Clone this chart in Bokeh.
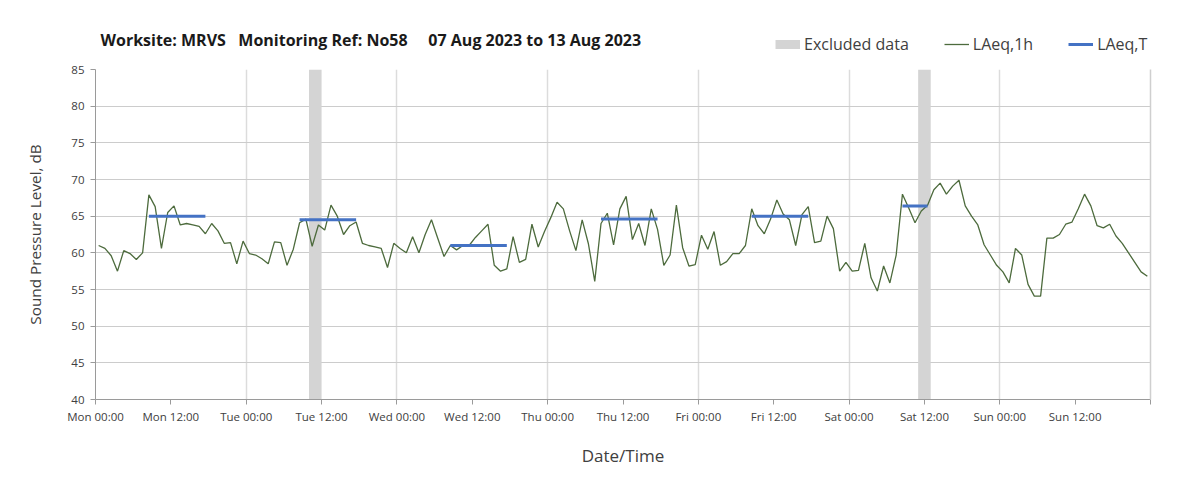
from bokeh.plotting import figure
from bokeh.layouts import column
from bokeh.models import (FixedTicker, Legend, LegendItem, Range1d, ColumnDataSource,
                          Label, LinearAxis)
from bokeh.embed import file_html
from bokeh.resources import INLINE

# ---------------- data ----------------
day_names = ["Mon", "Tue", "Wed", "Thu", "Fri", "Sat", "Sun"]

laeq_1h = [
    61.0, 60.6, 59.6, 57.5, 60.3, 59.9, 59.1, 60.0, 67.9, 66.3, 60.6, 65.5,
    66.4, 63.8, 64.0, 63.8, 63.6, 62.6, 64.0, 63.0, 61.3, 61.4, 58.5, 61.6,
    59.9, 59.7, 59.2, 58.5, 61.5, 61.4, 58.3, 60.5, 64.1, 64.6, 60.9, 63.8,
    63.1, 66.5, 65.0, 62.5, 63.7, 64.2, 61.3, 61.0, 60.8, 60.6, 58.0, 61.3,
    60.6, 60.0, 62.2, 60.0, 62.5, 64.5, 62.0, 59.5, 61.0, 60.4, 61.0, 61.0,
    62.1, 63.0, 63.9, 58.3, 57.5, 57.8, 62.2, 58.7, 59.1, 63.9, 60.8, 62.9,
    64.8, 66.9, 66.0, 63.0, 60.3, 64.5, 61.2, 56.1, 64.0, 65.4, 61.1, 66.0,
    67.7, 61.8, 64.0, 61.0, 66.0, 63.2, 58.3, 59.7, 66.5, 60.7, 58.2, 58.4,
    62.4, 60.5, 62.9, 58.3, 58.8, 59.9, 59.9, 61.0, 66.0, 63.7, 62.6, 64.6,
    67.2, 65.3, 64.5, 61.0, 65.2, 66.3, 61.4, 61.6, 65.0, 63.3, 57.5, 58.7,
    57.5, 57.6, 61.3, 56.6, 54.8, 58.2, 55.9, 59.7, 68.0, 66.1, 64.1, 65.7,
    66.5, 68.6, 69.5, 68.0, 69.1, 69.9, 66.4, 65.0, 63.8, 61.1, 59.7, 58.3,
    57.4, 55.9, 60.6, 59.7, 55.7, 54.1, 54.1, 62.0, 62.0, 62.5, 63.9, 64.2,
    66.0, 68.0, 66.4, 63.7, 63.4, 63.9, 62.3, 61.3, 60.0, 58.7, 57.4, 56.8,
]
hour_mid = [i + 0.5 for i in range(len(laeq_1h))]

excluded_start = [34, 131]
excluded_end = [36, 133]

laeq_t_start = [8.5, 32.5, 56.5, 80.5, 104.5, 128.5]
laeq_t_end = [17.5, 41.5, 65.5, 89.5, 113.5, 132.5]
laeq_t_value = [65.0, 64.5, 61.0, 64.6, 65.0, 66.4]

y_ticks = [40, 45, 50, 55, 60, 65, 70, 75, 80, 85]
x_ticks = list(range(0, 169, 12))
day_grid = list(range(24, 168, 24))
x_tick_labels = {t: (f"{day_names[t // 24]} {t % 24:02d}:00" if t < 168 else "") for t in x_ticks}

title_text = ("Worksite: MRVS\u00a0\u00a0\u00a0Monitoring Ref: No58"
              "\u00a0\u00a0\u00a0\u00a0\u00a007 Aug 2023 to 13 Aug 2023")
legend_labels = ["Excluded data", "LAeq,1h", "LAeq,T"]

FONT = "Open Sans"
TXT = "#404040"
C_EX = "#d4d4d4"
C_LINE = "#4d6b3d"
C_T = "#4472c4"

# ---------------- header (title + legend) ----------------
# data lies outside this header's ranges, so its renderers only serve as legend glyphs
top = figure(width=1203, height=61, x_range=Range1d(0, 1), y_range=Range1d(0, 1),
             x_axis_type=None, y_axis_type=None, toolbar_location=None,
             output_backend="svg", min_border_left=95, min_border_right=0,
             min_border_top=0, min_border_bottom=0)
top.outline_line_color = None
top.title = None

top.add_layout(Label(x=5, y=22, x_units="screen", y_units="screen", text=title_text,
                     text_baseline="middle", text_align="left", text_font=FONT,
                     text_font_size="16px", text_font_style="bold", text_color="#1a1a1a"))

d_ex = top.line(excluded_start, [40] * len(excluded_start), line_color=C_EX, line_width=9)
d_line = top.line(hour_mid, laeq_1h, line_color=C_LINE, line_width=1.3)
d_t = top.line(laeq_t_start, laeq_t_value, line_color=C_T, line_width=3)

leg = Legend(items=[LegendItem(label=legend_labels[0], renderers=[d_ex]),
                    LegendItem(label=legend_labels[1], renderers=[d_line]),
                    LegendItem(label=legend_labels[2], renderers=[d_t])],
             location=(680, 6), orientation="horizontal",
             glyph_width=25, glyph_height=20, label_height=20,
             label_standoff=4, spacing=35, padding=0, margin=0,
             background_fill_alpha=0, border_line_color=None,
             label_text_font=FONT, label_text_font_size="16px",
             label_text_color=TXT, label_text_baseline="middle")
top.add_layout(leg, "center")

# ---------------- main chart ----------------
p = figure(width=1203, height=429, output_backend="svg", toolbar_location=None,
           x_range=Range1d(0, 168), y_range=Range1d(40, 85),
           min_border_left=95, min_border_right=53, min_border_top=8, min_border_bottom=91)
p.title = None
p.outline_line_color = None

p.xaxis.ticker = FixedTicker(ticks=x_ticks)
p.xaxis.major_label_overrides = x_tick_labels
p.yaxis.ticker = FixedTicker(ticks=y_ticks)
for ax in (p.xaxis[0], p.yaxis[0]):
    ax.axis_line_color = "#9a9a9a"
    ax.axis_line_width = 1
    ax.major_tick_line_color = "#9a9a9a"
    ax.major_tick_in = 0
    ax.major_tick_out = 5
    ax.minor_tick_line_color = None
    ax.major_label_text_font = FONT
    ax.major_label_text_font_size = "11.5px"
    ax.major_label_text_color = TXT
    ax.axis_label_text_font = FONT
    ax.axis_label_text_font_style = "normal"
    ax.axis_label_text_color = TXT
p.xaxis.axis_label = "Date/Time"
p.yaxis.axis_label = "Sound Pressure Level, dB"
p.xaxis.axis_label_text_font_size = "17px"
p.yaxis.axis_label_text_font_size = "15.3px"
p.xaxis.major_label_standoff = 4
p.xaxis.axis_label_standoff = 17
p.yaxis.major_label_standoff = 6
p.yaxis.axis_label_standoff = 23

# right border line
rax = LinearAxis(ticker=FixedTicker(ticks=[]), axis_line_color="#cfcfcf", axis_line_width=1.5,
                 major_tick_line_color=None, minor_tick_line_color=None,
                 major_label_text_font_size="0px")
p.add_layout(rax, "right")

p.ygrid.ticker = FixedTicker(ticks=y_ticks)
p.ygrid.grid_line_color = "#cccccc"
p.ygrid.grid_line_width = 1
p.xgrid.ticker = FixedTicker(ticks=day_grid)
p.xgrid.grid_line_color = "#dcdcdc"
p.xgrid.grid_line_width = 1.5

ex_src = ColumnDataSource(dict(left=excluded_start, right=excluded_end,
                               bottom=[40] * len(excluded_start), top=[85] * len(excluded_start)))
p.quad(left="left", right="right", bottom="bottom", top="top", source=ex_src,
       fill_color=C_EX, line_color=None)

p.line(hour_mid, laeq_1h, line_color=C_LINE, line_width=1.3)

t_src = ColumnDataSource(dict(x0=laeq_t_start, x1=laeq_t_end, y=laeq_t_value))
p.segment(x0="x0", y0="y", x1="x1", y1="y", source=t_src, line_color=C_T, line_width=3)

layout = column(top, p, spacing=0)
open("out.html", "w").write(file_html(layout, INLINE))
